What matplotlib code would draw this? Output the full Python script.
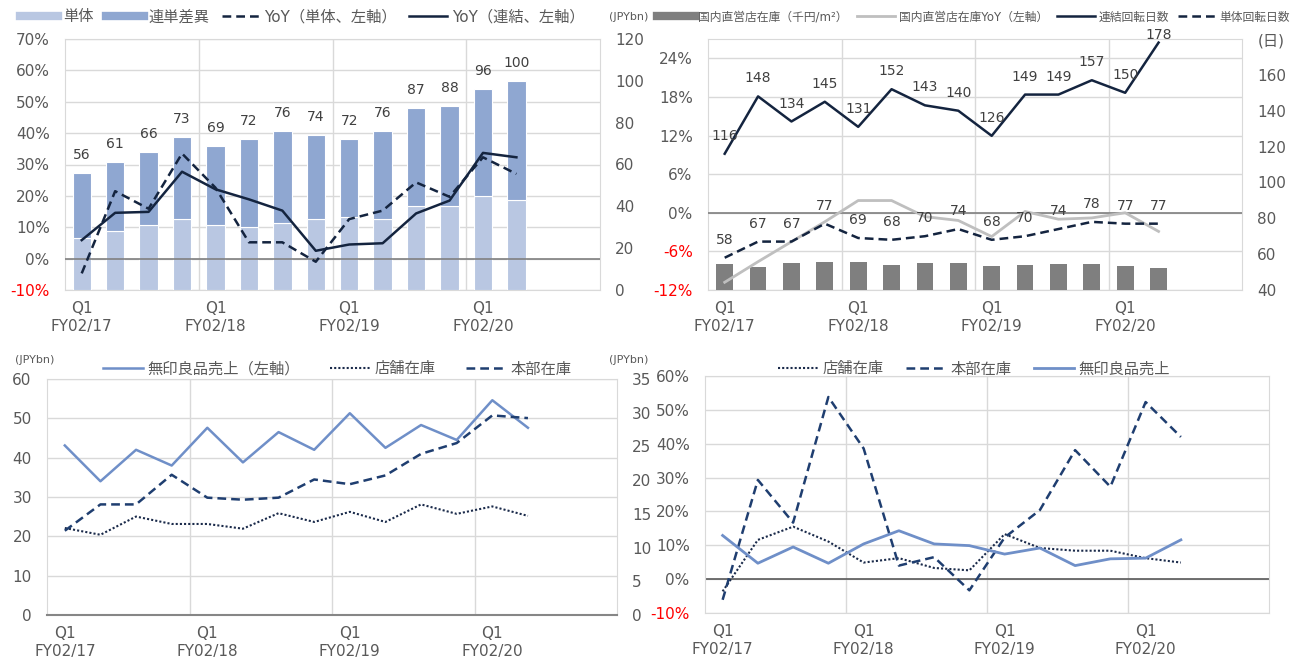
import numpy as np
import matplotlib.pyplot as plt
from matplotlib.lines import Line2D

plt.rcParams['font.family'] = ['DejaVu Sans', 'Noto Sans CJK JP']

# 共通
x = np.arange(14)
tick_pos = [0, 4, 8, 12]
tick_labels = ["Q1\nFY02/17", "Q1\nFY02/18", "Q1\nFY02/19", "Q1\nFY02/20"]

# 左上: 在庫 (JPYbn) と YoY (%)
total = [56, 61, 66, 73, 69, 72, 76, 74, 72, 76, 87, 88, 96, 100]
single = [25, 28, 31, 34, 31, 30, 32, 34, 35, 34, 40, 40, 45, 43]
diff = [31, 33, 35, 39, 38, 42, 44, 40, 37, 42, 47, 48, 51, 57]
yoy_single = [-4.7, 21.5, 15.9, 33.5, 22.6, 5.2, 5.2, -1.0, 12.6, 15.3, 24.3, 19.7, 32.3, 27.0]
yoy_cons = [5.9, 14.6, 14.9, 27.7, 22.1, 18.9, 15.3, 2.5, 4.5, 4.9, 14.4, 18.5, 33.7, 32.3]

# 右上: 回転日数
shop_inv = [54.5, 52.8, 55.1, 55.4, 55.4, 53.8, 54.9, 54.9, 53.6, 53.8, 54.3, 54.5, 53.4, 52.4]
shop_inv_yoy = [-10.8, -7.6, -4.5, -1.4, 1.9, 1.9, -0.6, -1.2, -3.7, 0.2, -1.0, -0.8, 0.0, -2.9]
days_cons = [116, 148, 134, 145, 131, 152, 143, 140, 126, 149, 149, 157, 150, 178]
days_single = [58, 67, 67, 77, 69, 68, 70, 74, 68, 70, 74, 78, 77, 77]

# 左下: 売上と在庫 (JPYbn)
muji_sales = [43.1, 34.0, 42.0, 38.0, 47.6, 38.8, 46.5, 42.0, 51.3, 42.5, 48.3, 44.5, 54.6, 47.6]
store_stock = [12.9, 11.9, 14.6, 13.5, 13.5, 12.8, 15.1, 13.8, 15.3, 13.8, 16.4, 15.0, 16.1, 14.7]
hq_stock = [12.5, 16.4, 16.4, 20.8, 17.4, 17.1, 17.4, 20.1, 19.4, 20.7, 23.9, 25.5, 29.6, 29.2]

# 右下: YoY (%)
store_yoy = [-3.6, 11.6, 15.5, 11.1, 4.9, 6.2, 3.3, 2.6, 13.3, 9.2, 8.4, 8.4, 6.2, 4.9]
hq_yoy = [-6.1, 29.3, 16.7, 53.8, 38.6, 4.0, 6.5, -3.3, 12.3, 20.4, 38.1, 27.3, 52.3, 42.0]
sales_yoy = [12.9, 4.7, 9.5, 4.7, 10.4, 14.3, 10.4, 9.9, 7.4, 9.2, 4.0, 6.0, 6.2, 11.6]

GRID = '#D9D9D9'
TXT = '#595959'
NAVY = '#14243F'
W, H = 1307, 660

fig = plt.figure(figsize=(13.07, 6.6), dpi=100)


def rect(x0, y0, x1, y1):
    return [x0 / W, 1 - y1 / H, (x1 - x0) / W, (y1 - y0) / H]


def base(ax, ylim, yticks, fmt):
    ax.set_xlim(-0.5, 15.5)
    ax.set_ylim(*ylim)
    ax.set_yticks(yticks)
    ax.set_yticklabels([fmt(v) for v in yticks])
    ax.set_xticks(tick_pos)
    ax.set_xticklabels(tick_labels)
    ax.set_xticks([3.5, 7.5, 11.5], minor=True)
    ax.grid(axis='y', color=GRID, lw=1)
    ax.grid(axis='x', which='minor', color=GRID, lw=1)
    ax.set_axisbelow(True)
    ax.tick_params(which='both', length=0, labelsize=11, colors=TXT)
    ax.tick_params(axis='y', pad=11)
    ax.tick_params(axis='x', pad=8)
    for s in ax.spines.values():
        s.set_color(GRID)
    for lbl in ax.get_yticklabels():
        if lbl.get_text().startswith('-'):
            lbl.set_color('red')


def layer(ax, ylim):
    # 目盛りなしの重ね用軸
    ov = ax.twinx()
    ov.set_ylim(*ylim)
    ov.set_yticks([])
    for s in ov.spines.values():
        s.set_visible(False)
    return ov


def right_axis(ax, ylim, yticks, labels=None):
    axr = ax.twinx()
    axr.set_ylim(*ylim)
    axr.set_yticks(yticks)
    if labels:
        axr.set_yticklabels(labels)
    axr.tick_params(length=0, labelsize=11, colors=TXT, pad=11)
    for s in axr.spines.values():
        s.set_visible(False)
    return axr


pct = lambda v: f"{v}%"
num = lambda v: f"{v}"

# ---- 左上 ----
ax = fig.add_axes(rect(65, 39, 600, 290))
base(ax, (-10, 70), list(range(-10, 71, 10)), pct)
axb = right_axis(ax, (0, 120), range(0, 121, 20))
axb.bar(x, single, width=0.55, color='#B9C7E2', edgecolor='white', lw=0.8)
axb.bar(x, diff, bottom=single, width=0.55, color='#8FA7D1', edgecolor='white', lw=0.8)
for i, v in enumerate(total):
    axb.text(i, v + 8.6, str(v), ha='center', va='center', fontsize=10, color='#404040')
ov = layer(ax, (-10, 70))
ov.axhline(0, color='#808080', lw=1.2)
ov.plot(x, yoy_single, color=NAVY, lw=1.8, ls=(0, (3.5, 2)))
ov.plot(x, yoy_cons, color=NAVY, lw=1.8)
axb.yaxis.tick_right()
h = [Line2D([], [], color='#B9C7E2', lw=6), Line2D([], [], color='#8FA7D1', lw=6),
     Line2D([], [], color=NAVY, lw=1.8, ls=(0, (3.5, 2))), Line2D([], [], color=NAVY, lw=1.8)]
fig.legend(h, ['単体', '連単差異', 'YoY（単体、左軸）', 'YoY（連結、左軸）'],
           loc='center left', bbox_to_anchor=(20 / W, 1 - 17 / H), ncol=4, frameon=False,
           fontsize=11, handlelength=2.5, handletextpad=0.3, columnspacing=0.8,
           borderaxespad=0, borderpad=0, labelcolor=TXT)
fig.text(629 / W, 1 - 17 / H, '(JPYbn)', ha='center', va='center', fontsize=8, color=TXT)

# ---- 右上 ----
ax = fig.add_axes(rect(708, 39, 1242, 290))
base(ax, (-12, 27), list(range(-12, 25, 6)), pct)
axb = right_axis(ax, (40, 180), range(40, 181, 20),
                 [str(v) for v in range(40, 161, 20)] + ['(日)'])
axb.bar(x, shop_inv, width=0.5, color='#7F7F7F')
ov = layer(ax, (-12, 27))
ov.axhline(0, color='#808080', lw=1.2)
ov.plot(x, shop_inv_yoy, color='#BFBFBF', lw=2)
ov2 = layer(ax, (40, 180))
ov2.plot(x, days_cons, color=NAVY, lw=1.8)
ov2.plot(x, days_single, color=NAVY, lw=1.8, ls=(0, (3.5, 2)))
for i in x:
    ov2.text(i, min(days_cons[i] + 10, 182), str(days_cons[i]), ha='center', va='center',
             fontsize=10, color='#404040', clip_on=False)
    ov2.text(i, days_single[i] + 10, str(days_single[i]), ha='center', va='center',
             fontsize=10, color='#404040')
axb.yaxis.tick_right()
h = [Line2D([], [], color='#7F7F7F', lw=6), Line2D([], [], color='#BFBFBF', lw=2),
     Line2D([], [], color=NAVY, lw=1.8), Line2D([], [], color=NAVY, lw=1.8, ls=(0, (3.5, 2)))]
fig.legend(h, ['国内直営店在庫（千円/m²）', '国内直営店在庫YoY（左軸）', '連結回転日数', '単体回転日数'],
           loc='center left', bbox_to_anchor=(657 / W, 1 - 17 / H), ncol=4, frameon=False,
           fontsize=8.5, handlelength=3.2, handletextpad=0.3, columnspacing=0.8,
           borderaxespad=0, borderpad=0, labelcolor=TXT)

# ---- 左下 ----
ax = fig.add_axes(rect(47, 379, 617, 615))
base(ax, (0, 60), list(range(0, 61, 10)), num)
ax.spines['bottom'].set_color('#868686')
ax.spines['bottom'].set_linewidth(1.5)
axr = right_axis(ax, (0, 35), range(0, 36, 5))
l_sales, = ax.plot(x, muji_sales, color='#6F8FC8', lw=1.8)
l_store, = axr.plot(x, store_stock, color='#1A2A4A', lw=1.5, ls=(0, (1, 1)))
l_hq, = axr.plot(x, hq_stock, color='#1F3E70', lw=1.8, ls=(0, (3.5, 2)))
fig.legend([l_sales, l_store, l_hq], ['無印良品売上（左軸）', '店舗在庫', '本部在庫'],
           loc='center left', bbox_to_anchor=(103 / W, 1 - 369 / H), ncol=3, frameon=False,
           fontsize=11, handlelength=2.6, handletextpad=0.3, columnspacing=2.0,
           borderaxespad=0, borderpad=0, labelcolor=TXT)
fig.text(35 / W, 1 - 360 / H, '(JPYbn)', ha='center', va='center', fontsize=8, color=TXT)
fig.text(629 / W, 1 - 360 / H, '(JPYbn)', ha='center', va='center', fontsize=8, color=TXT)

# ---- 右下 ----
ax = fig.add_axes(rect(705, 376, 1269, 613))
base(ax, (-10, 60), list(range(-10, 61, 10)), pct)
ax.axhline(0, color='#595959', lw=1.2)
b_store, = ax.plot(x, store_yoy, color='#1A2A4A', lw=1.5, ls=(0, (1, 1)))
b_hq, = ax.plot(x, hq_yoy, color='#1F3E70', lw=1.8, ls=(0, (3.5, 2)))
b_sales, = ax.plot(x, sales_yoy, color='#6F8FC8', lw=2)
fig.legend([b_store, b_hq, b_sales], ['店舗在庫', '本部在庫', '無印良品売上'],
           loc='center left', bbox_to_anchor=(778 / W, 1 - 369 / H), ncol=3, frameon=False,
           fontsize=11, handlelength=2.6, handletextpad=0.3, columnspacing=1.5,
           borderaxespad=0, borderpad=0, labelcolor=TXT)

fig.savefig('out.png', dpi=100, facecolor='white')
